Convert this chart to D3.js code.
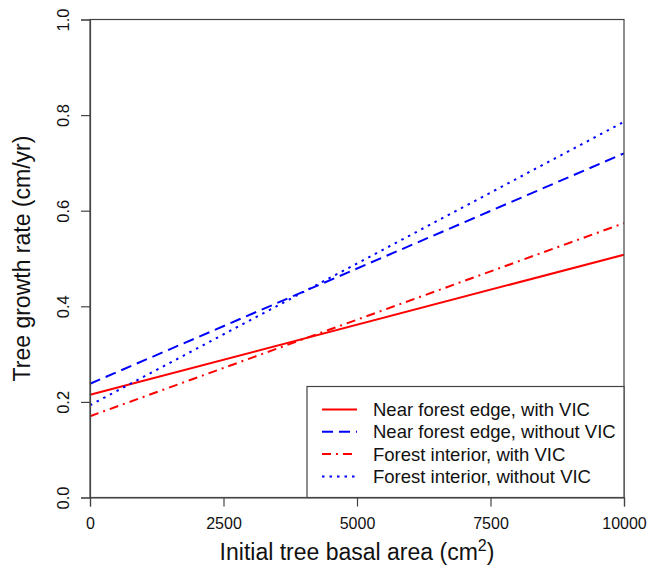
<!DOCTYPE html>
<html>
<head>
<meta charset="utf-8">
<script src="https://cdn.jsdelivr.net/npm/d3@7"></script>
<style>
  body { margin: 0; background: #fff; }
  svg { font-family: "Liberation Sans", Arial, sans-serif; }
</style>
</head>
<body>
<div id="chart"></div>
<script>
// fitted lines, values at start and end of basal area range
const xEnds = [0, 10000];
const seriesNames = [
  "Near forest edge, with VIC",
  "Near forest edge, without VIC",
  "Forest interior, with VIC",
  "Forest interior, without VIC"
];
const edgeWithVIC = [0.215, 0.508];
const edgeWithoutVIC = [0.238, 0.720];
const interiorWithVIC = [0.170, 0.574];
const interiorWithoutVIC = [0.193, 0.786];
const xTicks = [0, 2500, 5000, 7500, 10000];
const yTicks = [0.0, 0.2, 0.4, 0.6, 0.8, 1.0];

const seriesValues = [edgeWithVIC, edgeWithoutVIC, interiorWithVIC, interiorWithoutVIC];
const seriesColors = ["#ff0000", "#0000ff", "#ff0000", "#0000ff"];
const seriesDash = [null, "11,6", "9,5,2,5", "2.5,5"];

const width = 656, height = 570;
const margin = {top: 19.5, right: 32, bottom: 72.5, left: 90};
const innerW = width - margin.left - margin.right;
const innerH = height - margin.top - margin.bottom;

const svg = d3.select("#chart").append("svg")
  .attr("width", width)
  .attr("height", height);

const g = svg.append("g")
  .attr("transform", `translate(${margin.left},${margin.top})`);

const x = d3.scaleLinear().domain([0, 10000]).range([0, innerW]);
const y = d3.scaleLinear().domain([0, 1]).range([innerH, 0]);

// lines
const line = d3.line()
  .x(d => x(d[0]))
  .y(d => y(d[1]));

seriesValues.forEach((vals, i) => {
  g.append("path")
    .datum(xEnds.map((xv, j) => [xv, vals[j]]))
    .attr("d", line)
    .attr("fill", "none")
    .attr("stroke", seriesColors[i])
    .attr("stroke-width", 2)
    .attr("stroke-dasharray", seriesDash[i]);
});

// box
g.append("rect")
  .attr("width", innerW)
  .attr("height", innerH)
  .attr("fill", "none")
  .attr("stroke", "#444")
  .attr("stroke-width", 1.2);

// x axis
const xAxis = g.append("g")
  .attr("transform", `translate(0,${innerH})`)
  .call(d3.axisBottom(x).tickValues(xTicks).tickSize(9).tickPadding(11).tickFormat(d3.format("d")));
xAxis.select(".domain").attr("stroke", "#444").attr("stroke-width", 1.2);
xAxis.selectAll(".tick line").attr("stroke", "#444").attr("stroke-width", 1.2);
xAxis.selectAll("text").attr("font-size", "16px").attr("fill", "#111");

// y axis, labels rotated like R
const yAxis = g.append("g")
  .call(d3.axisLeft(y).tickValues(yTicks).tickSize(9).tickFormat(d3.format(".1f")));
yAxis.select(".domain").attr("stroke", "#444").attr("stroke-width", 1.2);
yAxis.selectAll(".tick line").attr("stroke", "#444").attr("stroke-width", 1.2);
yAxis.selectAll("text")
  .attr("font-size", "16.5px")
  .attr("fill", "#111")
  .attr("x", null)
  .attr("dy", null)
  .attr("text-anchor", "middle")
  .attr("transform", "translate(-27,0) rotate(-90)")
  .attr("y", 6);

// axis titles
const xTitle = svg.append("text")
  .attr("x", margin.left + innerW / 2)
  .attr("y", 560)
  .attr("text-anchor", "middle")
  .attr("font-size", "23px")
  .attr("fill", "#111");
xTitle.append("tspan").text("Initial tree basal area (cm");
xTitle.append("tspan").attr("font-size", "16px").attr("dy", -9).text("2");
xTitle.append("tspan").attr("dy", 9).text(")");

svg.append("text")
  .attr("transform", `translate(30,${margin.top + innerH / 2}) rotate(-90)`)
  .attr("text-anchor", "middle")
  .attr("font-size", "23px")
  .attr("fill", "#111")
  .text("Tree growth rate (cm/yr)");

// legend
const legW = 317, legH = 111;
const legend = g.append("g")
  .attr("transform", `translate(${innerW - legW},${innerH - legH})`);
legend.append("rect")
  .attr("width", legW)
  .attr("height", legH)
  .attr("fill", "#fff")
  .attr("stroke", "#444")
  .attr("stroke-width", 1.2);

const legRows = legend.selectAll(".leg")
  .data(seriesNames)
  .enter().append("g")
  .attr("class", "leg")
  .attr("transform", (d, i) => `translate(0,${23 + i * 22.3})`);

legRows.append("line")
  .attr("x1", 15).attr("x2", 50)
  .attr("stroke", (d, i) => seriesColors[i])
  .attr("stroke-width", 2)
  .attr("stroke-dasharray", (d, i) => seriesDash[i]);

legRows.append("text")
  .attr("x", 66)
  .attr("dy", "0.35em")
  .attr("font-size", "18.5px")
  .attr("fill", "#111")
  .text(d => d);
</script>
</body>
</html>
